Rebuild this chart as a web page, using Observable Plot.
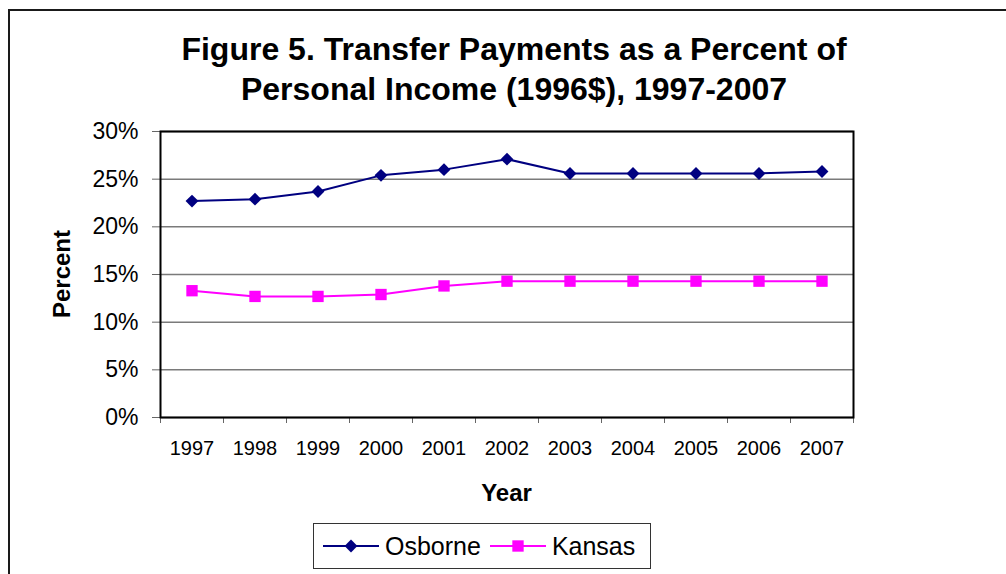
<!DOCTYPE html>
<html>
<head>
<meta charset="utf-8">
<script src="https://cdn.jsdelivr.net/npm/d3@7"></script>
<script src="https://cdn.jsdelivr.net/npm/@observablehq/plot@0.6"></script>
<style>
  html, body { margin: 0; padding: 0; background: #fff; width: 1006px; height: 574px; overflow: hidden; }
  body { position: relative; font-family: "Liberation Sans", Arial, sans-serif; color: #000; }
  #frame { position: absolute; left: 8px; top: 9px; width: 1200px; height: 800px; border-left: 2px solid #1a1a1a; border-top: 2px solid #1a1a1a; }
  #title { position: absolute; left: 0; top: 29px; width: 1028px; text-align: center; font-weight: bold; font-size: 32px; line-height: 40px; }
  #chart { position: absolute; left: 0; top: 0; }
  #ylabel { position: absolute; left: 62px; top: 274px; transform: translate(-50%, -50%) rotate(-90deg); font-weight: bold; font-size: 24px; white-space: nowrap; line-height: 24px; }
  #xlabel { position: absolute; left: 0; width: 1013px; top: 481px; text-align: center; font-weight: bold; font-size: 24px; line-height: 24px; }
  #legend { position: absolute; left: 313px; top: 523px; width: 336px; height: 44px; border: 1px solid #333; display: flex; align-items: center; font-size: 25px; }
  .item { display: flex; align-items: center; margin-left: 9px; }
  .item svg { margin-right: 6px; }
</style>
</head>
<body>
<div id="frame"></div>
<div id="chart"></div>
<div id="title">Figure 5. Transfer Payments as a Percent of<br>Personal Income (1996$), 1997-2007</div>
<div id="ylabel">Percent</div>
<div id="xlabel">Year</div>
<div id="legend"></div>
<script>
// ---- data ----
const years = [1997, 1998, 1999, 2000, 2001, 2002, 2003, 2004, 2005, 2006, 2007];
const osborne = [22.7, 22.9, 23.7, 25.4, 26.0, 27.1, 25.6, 25.6, 25.6, 25.6, 25.8];
const kansas = [13.3, 12.7, 12.7, 12.9, 13.8, 14.3, 14.3, 14.3, 14.3, 14.3, 14.3];
const seriesNames = ["Osborne", "Kansas"];
const seriesColors = ["#000080", "#FF00FF"];
const seriesSymbols = ["diamond2", "square"];
const yTicks = [0, 5, 10, 15, 20, 25, 30];

// ---- build table ----
const valuesBySeries = {Osborne: osborne, Kansas: kansas};
const rows = seriesNames.flatMap(name => years.map((year, i) => ({series: name, year, value: valuesBySeries[name][i]})));
const boundaries = [...years.map(y => y - 0.5), d3.max(years) + 0.5];

const seriesMarks = seriesNames.flatMap((name, k) => {
  const data = rows.filter(d => d.series === name);
  return [
    Plot.line(data, {x: "year", y: "value", stroke: seriesColors[k], strokeWidth: 2}),
    Plot.dot(data, {x: "year", y: "value", symbol: () => seriesSymbols[k], fill: seriesColors[k], stroke: "none", r: k === 0 ? 5.8 : 6.4})
  ];
});

const chart = Plot.plot({
  width: 1006,
  height: 574,
  marginTop: 131,
  marginBottom: 157,
  marginLeft: 160,
  marginRight: 153,
  style: {fontFamily: "'Liberation Sans', Arial, sans-serif", background: "transparent", color: "#000"},
  x: {type: "linear", domain: [d3.min(years) - 0.5, d3.max(years) + 0.5]},
  y: {domain: [d3.min(yTicks), d3.max(yTicks)]},
  symbol: {type: "identity"},
  marks: [
    Plot.ruleY(yTicks, {stroke: "#7a7a7a", strokeWidth: 1.5}),
    Plot.axisY({ticks: yTicks, tickSize: 8, tickPadding: 14, tickFormat: d => d + "%", fontSize: 23, stroke: "#666", fill: "#000", label: null}),
    Plot.axisX({ticks: years, tickSize: 0, tickPadding: 23, tickFormat: d => String(d), fontSize: 20, fill: "#000", label: null}),
    Plot.axisX({ticks: boundaries, tickSize: 6, tickFormat: () => "", stroke: "#666", label: null}),
    ...seriesMarks,
    Plot.frame({stroke: "#000", strokeWidth: 2})
  ]
});
document.getElementById("chart").appendChild(chart);

// ---- legend ----
const legend = d3.select("#legend");
seriesNames.forEach((name, k) => {
  const item = legend.append("div").attr("class", "item");
  const sw = item.append("svg").attr("width", 56).attr("height", 20);
  sw.append("line").attr("x1", 0).attr("x2", 56).attr("y1", 10).attr("y2", 10)
    .attr("stroke", seriesColors[k]).attr("stroke-width", 2);
  const sym = k === 0 ? d3.symbolDiamond2 : d3.symbolSquare;
  const r = k === 0 ? 5.8 : 6.4;
  sw.append("path").attr("d", d3.symbol(sym, Math.PI * r * r)())
    .attr("transform", "translate(28,10)").attr("fill", seriesColors[k]);
  item.append("span").text(name);
});
</script>
</body>
</html>
